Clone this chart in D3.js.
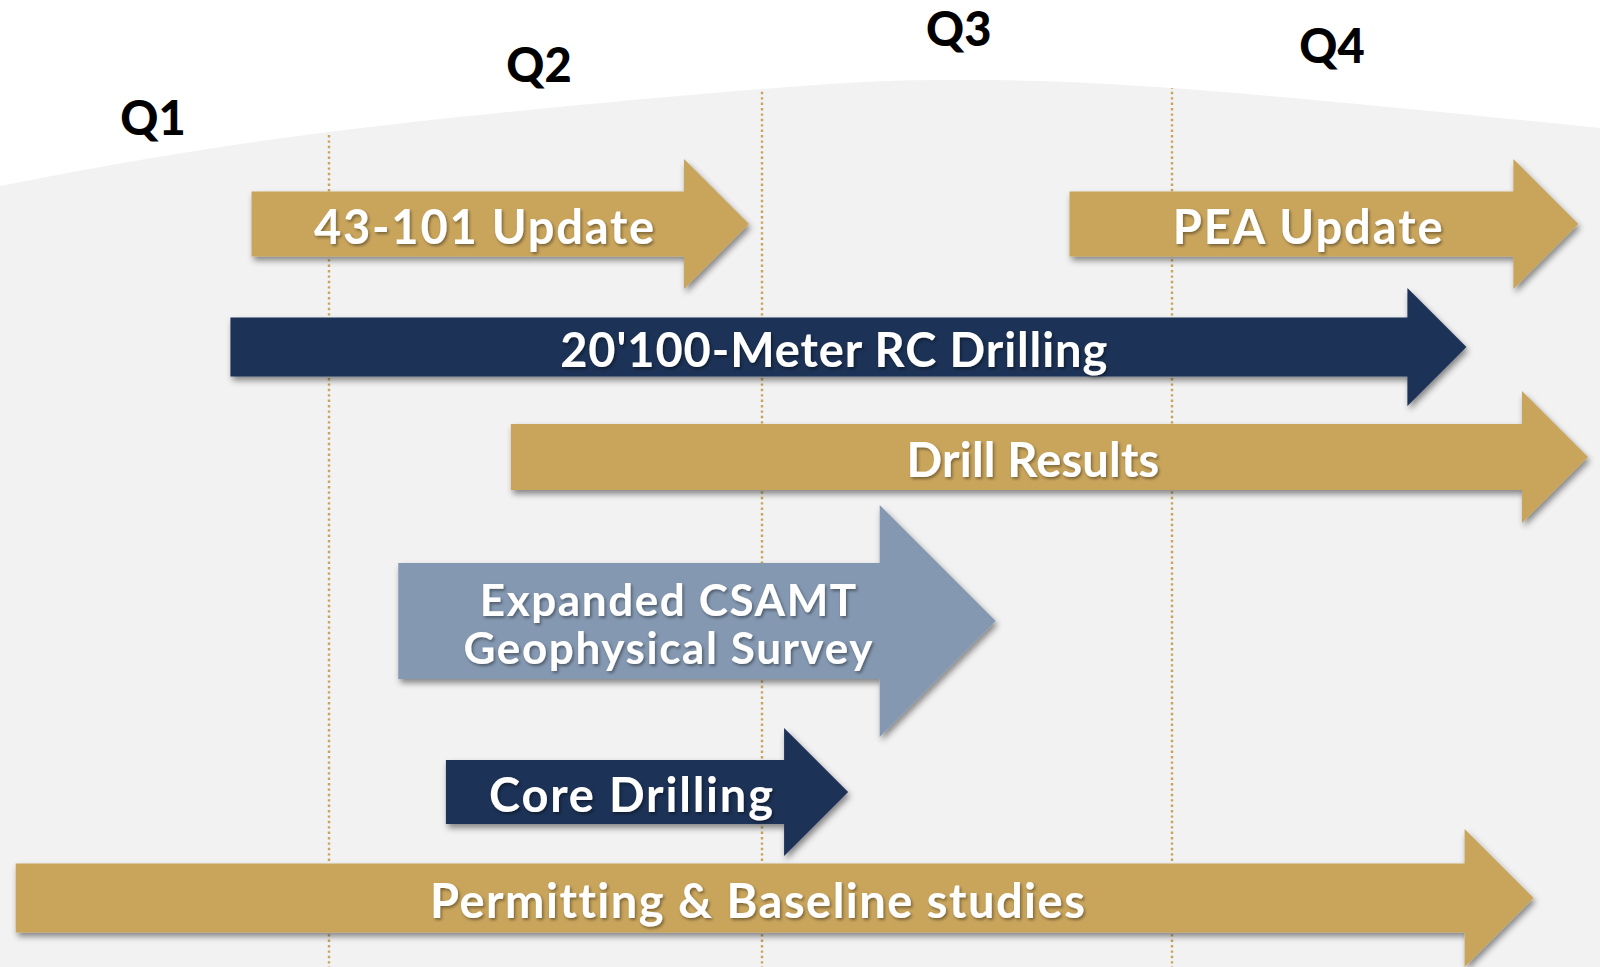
<!DOCTYPE html>
<html>
<head>
<meta charset="utf-8">
<script src="https://cdn.jsdelivr.net/npm/d3@7"></script>
<style>
  html, body { margin: 0; padding: 0; background: #ffffff; }
  svg { display: block; }
</style>
</head>
<body>
<svg id="chart" width="1600" height="967"></svg>
<script>
// ---------------- DATA ----------------
const quarters = ["Q1", "Q2", "Q3", "Q4"];
const taskNames = [
  "43-101 Update",
  "PEA Update",
  "20'100-Meter RC Drilling",
  "Drill Results",
  "Expanded CSAMT\nGeophysical Survey",
  "Core Drilling",
  "Permitting & Baseline studies"
];
// start and arrow-tip positions in quarter units (0 = start of Q1, 4 = end of Q4)
const taskStart = [0.78, 2.75, 0.72, 1.42, 1.16, 1.27, 0.11];
const taskEnd   = [1.97, 4.27, 3.92, 4.30, 2.57, 2.21, 4.13];
const taskType  = ["report", "report", "drilling", "report", "geophysics", "drilling", "report"];
const taskRow   = [0, 0, 1, 2, 3, 4, 5];

// ---------------- LAYOUT / STYLE ----------------
const W = 1600, H = 967;
const quarterEdges = [-23, 329, 762, 1172, 1492];
const qLabelPos = [0.5, 1.485, 2.48, 3.5];
const qLabelBaseline = [135, 82, 46, 63];
const rowMid = [224, 347, 457, 621, 792, 898];
const bodyHeight = [65, 65, 59, 66, 116, 64, 69];
const labelSize = [47, 47, 47, 47, 44, 47, 47];
const labelSpacing = [1.8, 2.0, 0.9, 0.2, 1.6, 1.8, 1.5];
const colors = { report: "#c9a55b", drilling: "#1b3056", geophysics: "#8498b1" };
const fontFamily = "Lato, 'Open Sans', sans-serif";

const x = d3.scaleLinear().domain([0, 1, 2, 3, 4]).range(quarterEdges);
const color = d3.scaleOrdinal().domain(Object.keys(colors)).range(Object.values(colors));

const tasks = taskNames.map((name, i) => ({
  name, start: taskStart[i], end: taskEnd[i], type: taskType[i], row: taskRow[i],
  h: bodyHeight[i], fs: labelSize[i], ls: labelSpacing[i]
}));

const svg = d3.select("#chart");
const defs = svg.append("defs");

const shadow = defs.append("filter").attr("id", "shadow")
  .attr("x", "-10%").attr("y", "-30%").attr("width", "120%").attr("height", "170%");
shadow.append("feDropShadow").attr("dx", 2).attr("dy", 4).attr("stdDeviation", 3)
  .attr("flood-color", "#000").attr("flood-opacity", 0.45);

const tshadow = defs.append("filter").attr("id", "tshadow")
  .attr("x", "-10%").attr("y", "-30%").attr("width", "120%").attr("height", "170%");
tshadow.append("feDropShadow").attr("dx", 1.5).attr("dy", 2).attr("stdDeviation", 1.5)
  .attr("flood-color", "#000").attr("flood-opacity", 0.4);

// background
svg.append("rect").attr("width", W).attr("height", H).attr("fill", "#ffffff");

// light grey dome region
const domeTop = [[0, 186], [329, 132], [762, 89], [950, 80], [1172, 88], [1600, 128]];
const domeLine = d3.line().curve(d3.curveNatural);
const domePath = domeLine(domeTop) + `L${W},${H}L0,${H}Z`;
svg.append("path").attr("d", domePath).attr("fill", "#f2f2f2");

defs.append("clipPath").attr("id", "domeClip").append("path").attr("d", domePath);

// dotted quarter dividers
svg.append("g").attr("clip-path", "url(#domeClip)")
  .selectAll("line").data([1, 2, 3]).join("line")
  .attr("x1", d => x(d)).attr("x2", d => x(d))
  .attr("y1", 0).attr("y2", H)
  .attr("stroke", "#c9a55b").attr("stroke-width", 2.4)
  .attr("stroke-dasharray", "2.4,3");

// quarter labels
svg.append("g").selectAll("text").data(quarters).join("text")
  .attr("x", (d, i) => x(qLabelPos[i]))
  .attr("y", (d, i) => qLabelBaseline[i])
  .attr("text-anchor", "middle")
  .attr("font-family", fontFamily).attr("font-weight", 900)
  .attr("font-size", 47).attr("fill", "#000")
  .text(d => d);

// arrows
function arrowPath(d) {
  const x0 = x(d.start), tip = x(d.end), cy = rowMid[d.row];
  const hb = d.h / 2, hh = d.h;          // body half-height, head half-height
  const hx = tip - hh;                   // head base x (45° head)
  return `M${x0},${cy - hb}L${hx},${cy - hb}L${hx},${cy - hh}L${tip},${cy}` +
         `L${hx},${cy + hh}L${hx},${cy + hb}L${x0},${cy + hb}Z`;
}

const g = svg.append("g").selectAll("g").data(tasks).join("g");
g.append("path").attr("d", arrowPath)
  .attr("fill", d => color(d.type))
  .attr("filter", "url(#shadow)");

g.append("text")
  .attr("text-anchor", "middle")
  .attr("font-family", fontFamily).attr("font-weight", 700)
  .attr("font-size", d => d.fs).attr("fill", "#ffffff")
  .attr("letter-spacing", d => d.ls)
  .attr("filter", "url(#tshadow)")
  .each(function (d) {
    const lines = d.name.split("\n");
    const cx = (x(d.start) + x(d.end) - d.h / 2) / 2 + d.ls / 2;
    const cy = rowMid[d.row];
    const lh = d.fs * 1.1;
    const t = d3.select(this);
    lines.forEach((ln, k) => {
      t.append("tspan").attr("x", cx)
        .attr("y", cy + (k - (lines.length - 1) / 2) * lh + d.fs * 0.43)
        .text(ln);
    });
  });
</script>
</body>
</html>
